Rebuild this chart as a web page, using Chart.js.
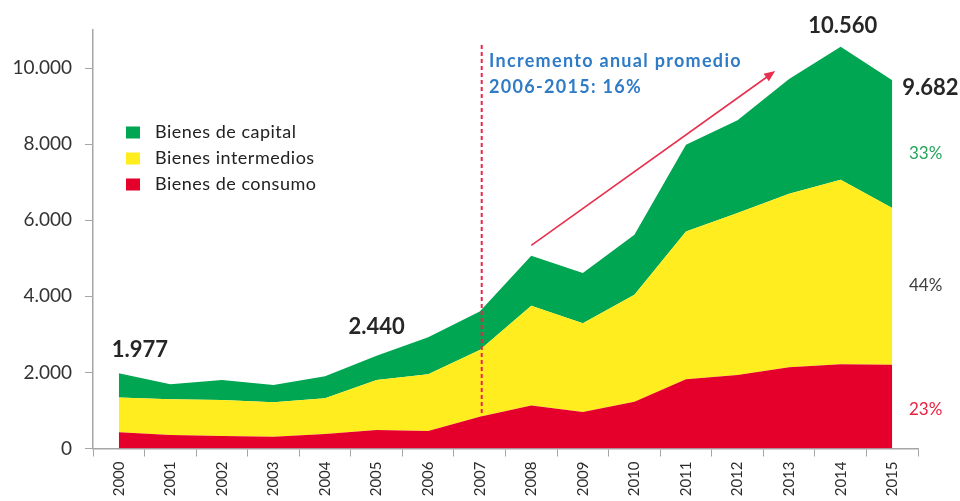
<!DOCTYPE html>
<html>
<head>
<meta charset="utf-8">
<script src="https://cdn.jsdelivr.net/npm/chart.js@4.4.1/dist/chart.umd.min.js"></script>
<style>
  html, body { margin: 0; padding: 0; background: #fff; }
  #wrap { width: 960px; height: 501px; position: relative; }
</style>
</head>
<body>
<div id="wrap"><canvas id="chart"></canvas></div>
<script>
// Importaciones por uso económico
const years = ['2000', '2001', '2002', '2003', '2004', '2005', '2006', '2007',
               '2008', '2009', '2010', '2011', '2012', '2013', '2014', '2015'];
const consumo     = [430, 355, 330, 311, 380, 487, 460, 837, 1127, 960, 1232, 1821, 1934, 2137, 2216, 2200];
const intermedios = [910, 940, 946, 904, 940, 1316, 1493, 1755, 2623, 2335, 2807, 3884, 4255, 4560, 4850, 4120];
const capital     = [637, 395, 524, 455, 580, 637, 973, 1008, 1316, 1315, 1579, 2282, 2437, 3018, 3494, 3362];
const yTicks = [0, 2000, 4000, 6000, 8000, 10000];

// Textos destacados
const totalLabels = { '2000': '1.977', '2005': '2.440', '2014': '10.560', '2015': '9.682' };
const shares2015 = ['23%', '44%', '33%'];
const noteLines = ['Incremento anual promedio', '2006-2015: 16%'];

const GREEN = '#00a651';
const YELLOW = '#ffed1f';
const RED = '#e4002b';
const FONT = 'Lato, "Open Sans", sans-serif';

const fmt = v => String(v).replace(/\B(?=(\d{3})+(?!\d))/g, '.');

const overlay = {
  id: 'overlay',
  afterDatasetsDraw(chart) {
    const { ctx, scales: { x, y } } = chart;
    const total = i => consumo[i] + intermedios[i] + capital[i];
    ctx.save();

    // dashed marker at 2007
    const i07 = years.indexOf('2007');
    const xd = x.getPixelForValue(i07) + 2;
    ctx.strokeStyle = '#e8264b';
    ctx.lineWidth = 2;
    ctx.setLineDash([4, 3]);
    ctx.beginPath();
    ctx.moveTo(xd, 45);
    ctx.lineTo(xd, y.getPixelForValue(consumo[i07]));
    ctx.stroke();
    ctx.setLineDash([]);

    // trend arrow
    const x0 = x.getPixelForValue(8), y0 = y.getPixelForValue(5340);
    const x1 = x.getPixelForValue(12.73), y1 = y.getPixelForValue(9920);
    const ang = Math.atan2(y1 - y0, x1 - x0);
    ctx.strokeStyle = '#e8304f';
    ctx.fillStyle = '#e8304f';
    ctx.lineWidth = 1.6;
    ctx.beginPath();
    ctx.moveTo(x0, y0);
    ctx.lineTo(x1 - 8 * Math.cos(ang), y1 - 8 * Math.sin(ang));
    ctx.stroke();
    ctx.beginPath();
    ctx.moveTo(x1, y1);
    ctx.lineTo(x1 - 11 * Math.cos(ang) + 4.5 * Math.sin(ang), y1 - 11 * Math.sin(ang) - 4.5 * Math.cos(ang));
    ctx.lineTo(x1 - 11 * Math.cos(ang) - 4.5 * Math.sin(ang), y1 - 11 * Math.sin(ang) + 4.5 * Math.cos(ang));
    ctx.closePath();
    ctx.fill();

    // note text
    ctx.fillStyle = '#2f7bc6';
    ctx.font = '700 18px ' + FONT;
    ctx.letterSpacing = '1.3px';
    ctx.textBaseline = 'middle';
    ctx.textAlign = 'left';
    ctx.fillText(noteLines[0], 489, 61);
    ctx.fillText(noteLines[1], 489, 87);
    ctx.letterSpacing = '0px';

    // totals
    ctx.fillStyle = '#262626';
    ctx.font = '700 22px ' + FONT;
    Object.keys(totalLabels).forEach(yr => {
      const i = years.indexOf(yr);
      const px = x.getPixelForValue(i), py = y.getPixelForValue(total(i));
      if (yr === '2000') { ctx.textAlign = 'left'; ctx.fillText(totalLabels[yr], px - 7, py - 23); }
      else if (yr === '2015') { ctx.textAlign = 'left'; ctx.fillText(totalLabels[yr], px + 10, py + 8); }
      else if (yr === '2005') { ctx.textAlign = 'center'; ctx.fillText(totalLabels[yr], px, py - 29); }
      else { ctx.textAlign = 'center'; ctx.fillText(totalLabels[yr], px + 2, py - 21); }
    });

    // 2015 shares
    ctx.font = '17px ' + FONT;
    ctx.textAlign = 'left';
    const shareY = [1013, 4284, 7750];
    const shareCol = ['#e8203f', '#3f3f3f', '#25a35a'];
    shares2015.forEach((s, k) => {
      ctx.fillStyle = shareCol[k];
      ctx.fillText(s, 909, y.getPixelForValue(shareY[k]));
    });

    // legend
    ctx.font = '18px ' + FONT;
    ctx.letterSpacing = '0.5px';
    const ds = chart.data.datasets.slice().reverse();
    ds.forEach((d, k) => {
      const cy = 132.5 + k * 26;
      ctx.fillStyle = d.backgroundColor;
      ctx.fillRect(126, cy - 6, 14, 12);
      ctx.fillStyle = '#222';
      ctx.fillText(d.label, 155, cy);
    });

    ctx.restore();
  }
};

new Chart(document.getElementById('chart'), {
  type: 'line',
  data: {
    labels: years,
    datasets: [
      { label: 'Bienes de consumo', data: consumo, backgroundColor: RED, fill: 'origin' },
      { label: 'Bienes intermedios', data: intermedios, backgroundColor: YELLOW, fill: '-1' },
      { label: 'Bienes de capital', data: capital, backgroundColor: GREEN, fill: '-1' }
    ]
  },
  options: {
    responsive: true,
    maintainAspectRatio: false,
    animation: false,
    layout: { padding: { top: 30, right: 42, left: 0, bottom: 0 } },
    elements: {
      line: { borderWidth: 0, tension: 0 },
      point: { radius: 0, hoverRadius: 0 }
    },
    plugins: {
      legend: { display: false },
      tooltip: { enabled: false }
    },
    scales: {
      x: {
        offset: true,
        grid: { offset: true, drawOnChartArea: false, drawTicks: true, tickLength: 8, color: '#a6a6a6' },
        border: { color: '#a6a6a6', width: 1.5 },
        ticks: {
          minRotation: 90, maxRotation: 90, padding: 5,
          color: '#2b2b2b', font: { family: FONT, size: 15 }
        },
        afterFit(scale) { scale.height = 52.5; }
      },
      y: {
        stacked: true,
        min: 0,
        max: 11000,
        afterBuildTicks(scale) { scale.ticks = yTicks.map(v => ({ value: v })); },
        grid: { drawOnChartArea: false, drawTicks: true, tickLength: 8, color: '#a6a6a6' },
        border: { color: '#a6a6a6', width: 1.5 },
        ticks: {
          padding: 13, color: '#333',
          font: { family: FONT, size: 19 },
          callback: v => fmt(v)
        },
        afterFit(scale) { scale.width = 93; }
      }
    }
  },
  plugins: [overlay]
});
</script>
</body>
</html>
